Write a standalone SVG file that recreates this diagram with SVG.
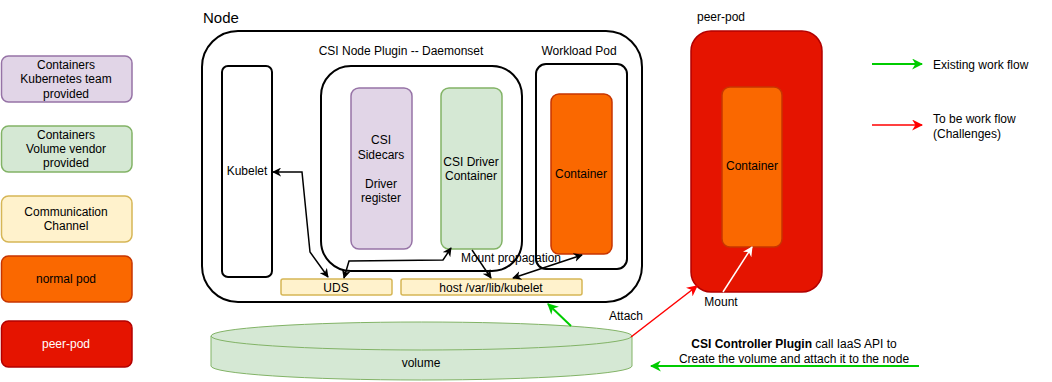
<svg xmlns="http://www.w3.org/2000/svg" width="1052" height="382" viewBox="0 0 1052 382">
<style>
text{font-family:"Liberation Sans",Arial,sans-serif;font-size:12px;fill:#000;text-anchor:middle;dominant-baseline:central}
.l{text-anchor:start}
.w{fill:#fff}
.blk{fill:#fff;stroke:#000;stroke-width:2}
.pur{fill:#e1d5e7;stroke:#9673a6;stroke-width:1.5}
.grn{fill:#d5e8d4;stroke:#82b366;stroke-width:1.5}
.yel{fill:#fff2cc;stroke:#d6b656;stroke-width:1.5}
.org{fill:#fa6800;stroke:#c73500;stroke-width:1.5}
.red{fill:#e51400;stroke:#b20000;stroke-width:1.5}
.c{fill:none;stroke:#000;stroke-width:1.5}
.cg{fill:none;stroke:#00cc00;stroke-width:2}
.cr{fill:none;stroke:#ff0000;stroke-width:1.5}
.cw{fill:none;stroke:#fff;stroke-width:1.5}
</style>
<defs>
<marker id="ab" viewBox="0 0 10 10" refX="9" refY="5" markerWidth="9" markerHeight="9" markerUnits="userSpaceOnUse" orient="auto-start-reverse"><path d="M0,0 L10,5 L0,10 L3,5 z" fill="#000"/></marker>
<marker id="ag" viewBox="0 0 10 10" refX="9" refY="5" markerWidth="11" markerHeight="11" markerUnits="userSpaceOnUse" orient="auto"><path d="M0,0 L10,5 L0,10 L3,5 z" fill="#00cc00"/></marker>
<marker id="ar" viewBox="0 0 10 10" refX="9" refY="5" markerWidth="11" markerHeight="11" markerUnits="userSpaceOnUse" orient="auto"><path d="M0,0 L10,5 L0,10 L3,5 z" fill="#ff0000"/></marker>
<marker id="aw" viewBox="0 0 10 10" refX="9" refY="5" markerWidth="10" markerHeight="10" markerUnits="userSpaceOnUse" orient="auto"><path d="M0,0 L10,5 L0,10 L3,5 z" fill="#fff"/></marker>
</defs>

<!-- Legend -->
<g id="legend-k8s">
<rect class="pur" x="1.5" y="56" width="130.5" height="46" rx="7"/>
<text x="66" y="65">Containers</text><text x="66" y="79">Kubernetes team</text><text x="66" y="94">provided</text>
</g>
<g id="legend-vendor">
<rect class="grn" x="1.5" y="126" width="130.5" height="46" rx="7"/>
<text x="66" y="135">Containers</text><text x="66" y="149">Volume vendor</text><text x="66" y="163">provided</text>
</g>
<g id="legend-channel">
<rect class="yel" x="1.5" y="196" width="130.5" height="46" rx="7"/>
<text x="66" y="212">Communication</text><text x="66" y="226">Channel</text>
</g>
<g id="legend-normal">
<rect class="org" x="1.5" y="256" width="130.5" height="46" rx="7"/>
<text x="66" y="279">normal pod</text>
</g>
<g id="legend-peer">
<rect class="red" x="1.5" y="321" width="130.5" height="46" rx="7"/>
<text class="w" x="66" y="344">peer-pod</text>
</g>

<!-- Node -->
<g id="node">
<text class="l" x="203" y="17" style="font-size:15px">Node</text>
<rect class="blk" x="202" y="31" width="440" height="271" rx="36"/>
</g>
<g id="kubelet">
<rect class="blk" x="222" y="66" width="50" height="211" rx="6"/>
<text x="247" y="171">Kubelet</text>
</g>
<g id="csi-node-plugin">
<text x="401" y="51">CSI Node Plugin -- Daemonset</text>
<rect class="blk" x="321" y="66" width="201" height="205" rx="30"/>
</g>
<g id="csi-sidecars">
<rect class="pur" x="351" y="88" width="61" height="161" rx="8"/>
<text x="381" y="140">CSI</text><text x="381" y="155">Sidecars</text>
<text x="381" y="184">Driver</text><text x="381" y="198">register</text>
</g>
<g id="csi-driver">
<rect class="grn" x="441" y="88" width="61" height="161" rx="8"/>
<text x="471" y="162">CSI Driver</text><text x="471" y="176">Container</text>
</g>
<g id="workload-pod">
<text x="579" y="51">Workload Pod</text>
<rect class="blk" x="536" y="64" width="91" height="205" rx="10"/>
</g>
<g id="workload-container">
<rect class="org" x="551" y="94" width="61" height="160" rx="8"/>
<text x="581" y="174">Container</text>
</g>
<g id="uds">
<rect class="yel" x="281" y="279" width="111" height="16" rx="2"/>
<text x="336" y="288">UDS</text>
</g>
<g id="host-kubelet">
<rect class="yel" x="401" y="279" width="181" height="16" rx="2"/>
<text x="491" y="288">host /var/lib/kubelet</text>
</g>

<!-- Volume -->
<g id="volume">
<path d="M211,336 A210.5,14 0 0 1 632,336 L632,366 A210.5,14 0 0 1 211,366 Z" fill="#d5e8d4" stroke="#82b366" stroke-width="1"/>
<path d="M211,336 A210.5,14 0 0 0 632,336" fill="none" stroke="#82b366" stroke-width="1"/>
<text x="421" y="363">volume</text>
</g>

<!-- Peer pod -->
<g id="peer-pod">
<text x="721" y="17">peer-pod</text>
<rect class="red" x="691" y="31" width="131" height="261" rx="20"/>
</g>
<g id="peer-container">
<rect class="org" x="722" y="87" width="60" height="160" rx="8"/>
<text x="752" y="166">Container</text>
</g>

<!-- Legend flows -->
<g id="legend-existing">
<text class="l" x="933" y="65">Existing work flow</text>
</g>
<g id="legend-tobe">
<text class="l" x="933" y="119">To be work flow</text>
<text class="l" x="933" y="134">(Challenges)</text>
</g>

<!-- Connectors -->
<g id="connectors">
<path class="c" d="M328,277 L310,252 L302,172 L273,172" marker-start="url(#ab)" marker-end="url(#ab)"/>
<path class="c" d="M344,278 L349,261 L443,260 L451,248" marker-start="url(#ab)" marker-end="url(#ab)"/>
<path class="c" d="M472,250 L491,278" marker-end="url(#ab)"/>
<path class="c" d="M513,278 L582,255" marker-start="url(#ab)" marker-end="url(#ab)"/>
<text x="511" y="258" style="font-size:12px">Mount propagation</text>
<path class="cg" d="M571,326 L548,304" marker-end="url(#ag)"/>
<path class="cr" d="M631,337 L697,286" marker-end="url(#ar)"/>
<text x="626" y="316">Attach</text>
<path class="cw" d="M723,292 L752,247" marker-end="url(#aw)"/>
<text x="721" y="302">Mount</text>
<path class="cg" d="M919,366 L651,366" marker-end="url(#ag)"/>
<text x="794" y="344"><tspan style="font-weight:bold">CSI Controller Plugin</tspan> call IaaS API to</text>
<text x="794" y="359">Create the volume and attach it to the node</text>
<path class="cg" d="M872,64 L922,64" marker-end="url(#ag)"/>
<path class="cr" d="M872,125 L922,125" marker-end="url(#ar)"/>
</g>
</svg>
